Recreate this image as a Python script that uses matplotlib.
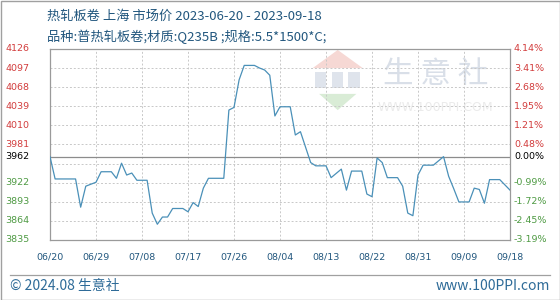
import numpy as np
import pandas as pd
import matplotlib
matplotlib.use("Agg")
from matplotlib import pyplot as plt
from matplotlib import transforms
from matplotlib.patches import Polygon, Rectangle

plt.rcParams['font.family'] = ['Noto Sans CJK SC', 'DejaVu Sans']

# price vertices (date, yuan/ton)
dates = ["2023-06-20", "2023-06-21", "2023-06-25", "2023-06-26", "2023-06-27", "2023-06-28",
         "2023-06-29", "2023-06-30", "2023-07-02", "2023-07-03", "2023-07-04", "2023-07-05",
         "2023-07-06", "2023-07-07", "2023-07-09", "2023-07-10", "2023-07-11", "2023-07-12",
         "2023-07-13", "2023-07-14", "2023-07-16", "2023-07-17", "2023-07-18", "2023-07-19",
         "2023-07-20", "2023-07-21", "2023-07-24", "2023-07-25", "2023-07-26", "2023-07-27",
         "2023-07-28", "2023-07-30", "2023-07-31", "2023-08-01", "2023-08-02", "2023-08-03",
         "2023-08-04", "2023-08-06", "2023-08-07", "2023-08-08", "2023-08-10", "2023-08-11",
         "2023-08-13", "2023-08-14", "2023-08-16", "2023-08-17", "2023-08-18", "2023-08-20",
         "2023-08-21", "2023-08-22", "2023-08-23", "2023-08-24", "2023-08-25", "2023-08-27",
         "2023-08-28", "2023-08-29", "2023-08-30", "2023-08-31", "2023-09-01", "2023-09-03",
         "2023-09-05", "2023-09-06", "2023-09-07", "2023-09-08", "2023-09-10", "2023-09-11",
         "2023-09-12", "2023-09-13", "2023-09-14", "2023-09-16", "2023-09-18"]
prices = [3962, 3928, 3928, 3885, 3917, 3920,
          3923, 3939, 3939, 3929, 3952, 3934,
          3937, 3926, 3926, 3876, 3859, 3870,
          3870, 3883, 3883, 3878, 3892, 3886,
          3914, 3929, 3929, 4033, 4037, 4079,
          4101, 4101, 4097, 4094, 4086, 4024,
          4038, 4038, 3995, 4000, 3953, 3948,
          3948, 3930, 3943, 3911, 3940, 3940,
          3905, 3901, 3960, 3953, 3930, 3930,
          3917, 3876, 3872, 3934, 3949, 3949,
          3962, 3932, 3913, 3893, 3893, 3914,
          3912, 3891, 3927, 3927, 3911]

base_price = 3962
y_min, y_max = 3835, 4126
left_labels = ["4126", "4097", "4068", "4039", "4010", "3981", "3962", "3922", "3893", "3864", "3835"]
left_values = [4126, 4096.9, 4067.8, 4038.7, 4009.6, 3980.5, 3962, 3922.3, 3893.2, 3864.1, 3835]
right_labels = ["4.14%", "3.41%", "2.68%", "1.95%", "1.21%", "0.48%", "0.00%",
                "-0.99%", "-1.72%", "-2.45%", "-3.19%"]
tick_dates = ["2023-06-20", "2023-06-29", "2023-07-08", "2023-07-17", "2023-07-26", "2023-08-04",
              "2023-08-13", "2023-08-22", "2023-08-31", "2023-09-09", "2023-09-18"]

title1 = "热轧板卷 上海 市场价 2023-06-20 - 2023-09-18"
title2 = "品种:普热轧板卷;材质:Q235B ;规格:5.5*1500*C;"

RED = "#d23c3c"
GREEN = "#4e9a43"
BLUE_TXT = "#22577e"
LINE = "#4a90b8"
W, H = 560, 300

x = pd.to_datetime(dates)
xt = pd.to_datetime(tick_dates)

fig = plt.figure(figsize=(W / 100, H / 100), dpi=100)
ax = fig.add_axes([50 / W, (H - 240) / H, 460 / W, 191 / H])

# watermark
ax.text(0.838, 0.865, "生 意 社", transform=ax.transAxes, fontsize=22, color="#d9dfe8",
        ha="center", va="center", zorder=0)
ax.text(0.838, 0.695, "WWW.100PPI.COM", transform=ax.transAxes, fontsize=9, color="#ebebeb",
        ha="center", va="center", family="DejaVu Sans", zorder=0)
ax.add_patch(Polygon([[0.571, 0.9], [0.68, 0.9], [0.6255, 0.995]], closed=True,
                     transform=ax.transAxes, color="#f6d8d4", zorder=0, lw=0))
ax.add_patch(Polygon([[0.585, 0.765], [0.666, 0.765], [0.6255, 0.68]], closed=True,
                     transform=ax.transAxes, color="#d9ecd6", zorder=0, lw=0))
for bx in [0.575, 0.612, 0.648]:
    ax.add_patch(Rectangle((bx, 0.795), 0.025, 0.085, transform=ax.transAxes,
                           color="#dfe4ec", zorder=0, lw=0))

ax.plot(x, prices, color=LINE, lw=0.9, zorder=3)
ax.axhline(base_price, color="#8c8c8c", lw=0.9, zorder=2)

ax.set_xlim(xt[0], xt[-1])
ax.set_ylim(y_min, y_max)
ax.set_xticks(xt)
ax.set_xticklabels([d.strftime("%m/%d") for d in xt], fontsize=6.8, color=BLUE_TXT,
                   family="DejaVu Sans")
ax.set_yticks(np.linspace(y_min, y_max, 11))
ax.set_yticklabels([])
ax.tick_params(length=0, pad=9)
ax.grid(True, color="#c8c8c8", linestyle=(0, (2, 2)), lw=0.7)
for s in ax.spines.values():
    s.set_color("#9a9a9a")
    s.set_linewidth(0.9)

tl = transforms.blended_transform_factory(fig.transFigure, ax.transData)
for lab, v in zip(left_labels, left_values):
    c = "black" if v == base_price else (RED if v > base_price else GREEN)
    fig.text(5 / W, v, lab, transform=tl, fontsize=6.8, color=c, ha="left", va="center",
             family="DejaVu Sans")
for lab, v in zip(right_labels, left_values):
    c = "black" if v == base_price else (RED if v > base_price else GREEN)
    fig.text(514 / W, v, lab, transform=tl, fontsize=6.8, color=c, ha="left", va="center",
             family="DejaVu Sans")

fig.text(47 / W, 1 - 16 / H, title1, fontsize=9.5, color=BLUE_TXT, va="center")
fig.text(47 / W, 1 - 37 / H, title2, fontsize=9.5, color=BLUE_TXT, va="center")

# footer
fig.add_artist(plt.Line2D([10 / W, 550 / W], [1 - 275 / H, 1 - 275 / H], color="#a0a0a0", lw=0.9))
fig.text(10 / W, 1 - 286 / H, "© 2024.08 生意社", fontsize=10, color="#2e6b98", va="center")
fig.text(550 / W, 1 - 286 / H, "www.100PPI.com", fontsize=10, color="#2e6b98", va="center",
         ha="right")
fig.add_artist(Rectangle((0.5 / W, 0.5 / H), (W - 1) / W, (H - 1) / H, transform=fig.transFigure,
                         fill=False, edgecolor="#a0a0a0", lw=1))

fig.savefig("out.png", dpi=100)
